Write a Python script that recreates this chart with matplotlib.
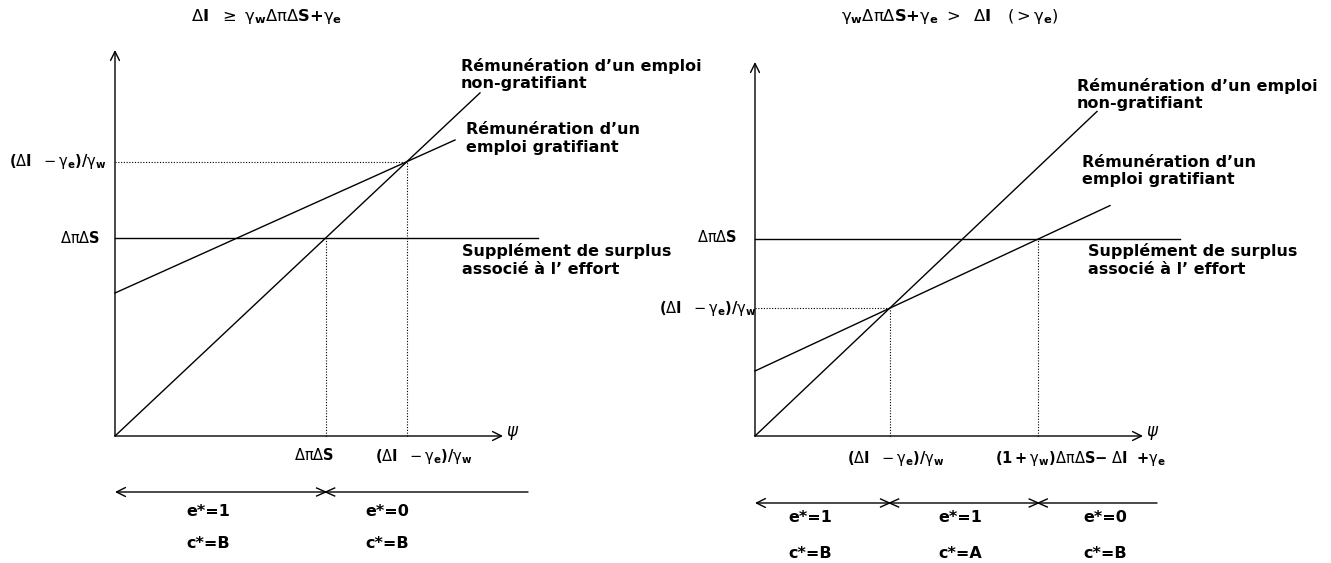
import matplotlib
matplotlib.use("Agg")
import matplotlib.pyplot as plt

plt.rcParams["font.family"] = ["DejaVu Sans"]
plt.rcParams["mathtext.fontset"] = "custom"
plt.rcParams["mathtext.rm"] = "DejaVu Sans"
plt.rcParams["mathtext.bf"] = "DejaVu Sans:bold"
plt.rcParams["mathtext.it"] = "DejaVu Sans:italic"
plt.rcParams["mathtext.default"] = "rm"

# schematic values, one entry per panel (left, right)
effort_level = [1.98, 1.97]        # ΔπΔS
grat_intercept = [1.43, 0.65]
grat_slope = [0.45, 0.466]
nongrat_slope = [0.94, 0.949]
nongrat_end = [3.65, 3.42]
grat_end = [3.40, 3.55]
level_end = [4.23, 4.25]

titles = [
    r"$\Delta\mathbf{I}\ \ \geq\ \gamma_\mathbf{w}\Delta\pi\Delta\mathbf{S}\mathbf{+}\gamma_\mathbf{e}$",
    r"$\gamma_\mathbf{w}\Delta\pi\Delta\mathbf{S}\mathbf{+}\gamma_\mathbf{e}\ >\ \ \Delta\mathbf{I}\ \ \ (>\gamma_\mathbf{e})$",
]
regime_e = [["e*=1", "e*=0"], ["e*=1", "e*=1", "e*=0"]]
regime_c = [["c*=B", "c*=B"], ["c*=B", "c*=A", "c*=B"]]

LBL_DPS = r"$\Delta\pi\Delta\mathbf{S}$"
LBL_INT = r"$\mathbf{(}\Delta\mathbf{I}\ \ -\gamma_\mathbf{e}\mathbf{)/}\gamma_\mathbf{w}$"
LBL_RIGHT = (r"$\mathbf{(1+}\gamma_\mathbf{w}\mathbf{)}\Delta\pi\Delta\mathbf{S}"
             r"\mathbf{-}\ \Delta\mathbf{I}\ \ \mathbf{+}\gamma_\mathbf{e}$")
TXT_NON = "Rémunération d’un emploi\nnon-gratifiant"
TXT_GRAT = "Rémunération d’un\nemploi gratifiant"
TXT_SUP = "Supplément de surplus\nassocié à l’ effort"

FS = 11.5      # curve notes and regime labels
FS_AX = 10.5   # axis value labels
FS_T = 11.8    # panel titles
LW = 1.0
fig = plt.figure(figsize=(13.31, 5.63), dpi=100)
W, H = 1331, 563
OY = 436


def make_axes(px0, px1, ox):
    ax = fig.add_axes([px0 / W, 0, (px1 - px0) / W, 1])
    ax.set_xlim((px0 - ox) / 100, (px1 - ox) / 100)
    ax.set_ylim((OY - H) / 100, OY / 100)
    ax.axis("off")
    return ax


def arrow(ax, start, end):
    ax.annotate("", xy=end, xytext=start,
                arrowprops=dict(arrowstyle="->", lw=LW, color="black",
                                mutation_scale=16, shrinkA=0, shrinkB=0))


def cross(ax, x, y):
    ax.plot([x - 0.09, x + 0.09], [y - 0.04, y + 0.04], color="black", lw=LW)
    ax.plot([x - 0.09, x + 0.09], [y + 0.04, y - 0.04], color="black", lw=LW)


def text(ax, x, y, s, **kw):
    kw.setdefault("fontsize", FS)
    kw.setdefault("fontweight", "bold")
    ax.text(x, y, s, **kw)


def draw_panel(ax, i, xaxis_end, yaxis_end, bar_y, bar_end):
    lev = effort_level[i]
    a, b = grat_intercept[i], grat_slope[i]
    k = nongrat_slope[i]
    x_int = a / (k - b)
    y_int = k * x_int

    arrow(ax, (0, 0), (0, yaxis_end))
    arrow(ax, (0, 0), (xaxis_end, 0))
    ax.plot([0, nongrat_end[i]], [0, k * nongrat_end[i]], color="black", lw=LW)
    ax.plot([0, grat_end[i]], [a, a + b * grat_end[i]], color="black", lw=LW)
    ax.plot([0, level_end[i]], [lev, lev], color="black", lw=LW)
    ax.plot([0, x_int], [y_int, y_int], color="black", lw=0.8, ls=(0, (1, 1.5)))
    ax.plot([x_int, x_int], [0, y_int], color="black", lw=0.8, ls=(0, (1, 1.5)))
    text(ax, xaxis_end + 0.03, 0.05, "ψ", fontsize=12, fontweight="normal",
         ha="left", va="center", style="italic")
    # regime bar
    arrow(ax, (bar_end, bar_y), (0, bar_y))
    return lev, x_int, y_int


ax1 = make_axes(0, 665, 115)
lev, x_int, y_int = draw_panel(ax1, 0, 3.88, 3.86, -0.56, 4.13)
x_lev = lev / nongrat_slope[0]
ax1.plot([x_lev, x_lev], [0, lev], color="black", lw=0.8, ls=(0, (1, 1.5)))
cross(ax1, x_lev, -0.56)
text(ax1, 1.52, 4.19, titles[0], ha="center", va="center", fontsize=FS_T)
text(ax1, 3.46, 3.78, TXT_NON, ha="left", va="top", linespacing=1.15)
text(ax1, 3.51, 3.14, TXT_GRAT, ha="left", va="top", linespacing=1.25)
text(ax1, 3.47, 1.93, TXT_SUP, ha="left", va="top", linespacing=1.25)
text(ax1, -0.08, y_int, LBL_INT, ha="right", va="center", fontsize=FS_AX)
text(ax1, -0.15, lev, LBL_DPS, ha="right", va="center", fontsize=FS_AX)
text(ax1, x_lev - 0.12, -0.19, LBL_DPS, ha="center", va="center", fontsize=FS_AX)
text(ax1, x_int + 0.17, -0.21, LBL_INT, ha="center", va="center", fontsize=FS_AX)
for xc, e, c in zip([0.93, 2.72], regime_e[0], regime_c[0]):
    text(ax1, xc, -0.75, e, ha="center", va="center")
    text(ax1, xc, -1.07, c, ha="center", va="center")

ax2 = make_axes(665, 1331, 755)
lev, x_int, y_int = draw_panel(ax2, 1, 3.88, 3.74, -0.67, 4.02)
x_g = (lev - grat_intercept[1]) / grat_slope[1]
ax2.plot([x_g, x_g], [0, lev], color="black", lw=0.8, ls=(0, (1, 1.5)))
cross(ax2, x_int, -0.67)
cross(ax2, x_g, -0.67)
text(ax2, 1.95, 4.19, titles[1], ha="center", va="center", fontsize=FS_T)
text(ax2, 3.22, 3.58, TXT_NON, ha="left", va="top", linespacing=1.15)
text(ax2, 3.27, 2.81, TXT_GRAT, ha="left", va="top", linespacing=1.15)
text(ax2, 3.33, 1.93, TXT_SUP, ha="left", va="top", linespacing=1.25)
text(ax2, -0.18, lev + 0.02, LBL_DPS, ha="right", va="center", fontsize=FS_AX)
text(ax2, 0.02, y_int, LBL_INT, ha="right", va="center", fontsize=FS_AX)
text(ax2, x_int + 0.06, -0.23, LBL_INT, ha="center", va="center", fontsize=FS_AX)
text(ax2, x_g + 0.42, -0.23, LBL_RIGHT, ha="center", va="center", fontsize=FS_AX)
for xc, e, c in zip([0.55, 2.05, 3.50], regime_e[1], regime_c[1]):
    text(ax2, xc, -0.82, e, ha="center", va="center")
    text(ax2, xc, -1.17, c, ha="center", va="center")

fig.savefig("out.png", dpi=100, facecolor="white")
